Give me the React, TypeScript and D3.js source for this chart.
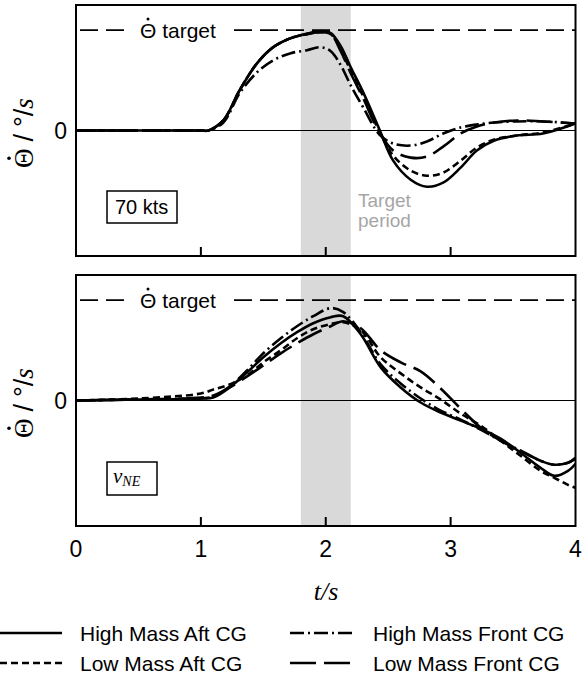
import React from "react";
import * as d3 from "d3";

// ---------- DATA ----------
const tTop = [0, 1.0, 1.06, 1.18, 1.31, 1.45, 1.58, 1.72, 1.85, 1.96, 2.04, 2.12, 2.2, 2.3, 2.43, 2.54, 2.68, 2.81, 2.94, 3.08, 3.21, 3.35, 3.53, 3.74, 4.0];
const topHighMassAft = [0, 0, 0, 0.10, 0.40, 0.67, 0.83, 0.92, 0.965, 0.99, 0.97, 0.84, 0.63, 0.38, 0.01, -0.30, -0.49, -0.56, -0.52, -0.37, -0.20, -0.10, -0.05, -0.03, 0.07];
const topLowMassAft = [0, 0, 0, 0.10, 0.40, 0.67, 0.83, 0.92, 0.96, 0.98, 0.96, 0.81, 0.59, 0.34, -0.01, -0.25, -0.40, -0.45, -0.42, -0.30, -0.17, -0.09, -0.05, -0.02, 0.07];
const topHighMassFront = [0, 0, 0, 0.08, 0.37, 0.58, 0.70, 0.77, 0.80, 0.83, 0.79, 0.65, 0.45, 0.23, -0.04, -0.13, -0.15, -0.11, -0.03, 0.03, 0.06, 0.08, 0.09, 0.09, 0.07];
const topLowMassFront = [0, 0, 0, 0.10, 0.40, 0.67, 0.83, 0.92, 0.96, 0.98, 0.96, 0.79, 0.57, 0.32, -0.02, -0.20, -0.27, -0.26, -0.16, -0.03, 0.04, 0.08, 0.10, 0.09, 0.07];

const tBottom = [0, 0.5, 1.0, 1.1, 1.23, 1.37, 1.5, 1.64, 1.77, 1.9, 2.04, 2.14, 2.28, 2.44, 2.6, 2.76, 2.92, 3.08, 3.24, 3.4, 3.56, 3.72, 3.83, 3.94, 4.0];
const botHighMassAft = [0, 0.01, 0.02, 0.03, 0.13, 0.28, 0.43, 0.57, 0.68, 0.77, 0.83, 0.84, 0.66, 0.33, 0.13, -0.02, -0.12, -0.20, -0.28, -0.38, -0.52, -0.67, -0.75, -0.70, -0.63];
const botLowMassAft = [0, 0.02, 0.07, 0.11, 0.16, 0.25, 0.38, 0.50, 0.62, 0.71, 0.76, 0.78, 0.70, 0.43, 0.27, 0.13, 0.01, -0.13, -0.25, -0.40, -0.55, -0.70, -0.77, -0.84, -0.87];
const botHighMassFront = [0, 0.01, 0.02, 0.04, 0.14, 0.30, 0.47, 0.62, 0.74, 0.84, 0.92, 0.88, 0.68, 0.36, 0.17, 0.02, -0.10, -0.19, -0.29, -0.40, -0.50, -0.60, -0.64, -0.62, -0.57];
const botLowMassFront = [0, 0.01, 0.03, 0.05, 0.13, 0.24, 0.35, 0.47, 0.57, 0.66, 0.74, 0.79, 0.72, 0.50, 0.38, 0.29, 0.12, -0.08, -0.27, -0.40, -0.50, -0.60, -0.64, -0.62, -0.58];

const seriesNames = ["High Mass Aft CG", "Low Mass Aft CG", "High Mass Front CG", "Low Mass Front CG"];
const xTicks = [0, 1, 2, 3, 4];
const targetValue = 1;
const targetPeriod = [1.8, 2.2];
const panelLabels = ["70 kts", "vNE"];

// ---------- STYLE ----------
const dashes = ["", "7,4", "14,4,2,4", "26,8"];
const W = 582, H = 680;
const left = 76, right = 575.5;
const panels = [
  { top: 5, bottom: 256, t: tTop, series: [topHighMassAft, topLowMassAft, topHighMassFront, topLowMassFront] },
  { top: 275, bottom: 526, t: tBottom, series: [botHighMassAft, botLowMassAft, botHighMassFront, botLowMassFront] },
];
const sans = "'Liberation Sans', Arial, sans-serif";
const serif = "'Liberation Serif', 'Times New Roman', serif";

const x = d3.scaleLinear().domain([0, 4]).range([left, right]);

function Panel({ p, idx }: { p: any; idx: number }) {
  const y = d3.scaleLinear().domain([-1.25, 1.25]).range([p.bottom, p.top]);
  const line = d3
    .line<[number, number]>()
    .x((d) => x(d[0]))
    .y((d) => y(d[1]))
    .curve(d3.curveCatmullRom.alpha(0.5));
  const clipId = `clip${idx}`;
  const y0 = y(0);
  const yT = y(targetValue);
  const labX = 140;
  return (
    <g>
      <defs>
        <clipPath id={clipId}>
          <rect x={left} y={p.top} width={right - left} height={p.bottom - p.top} />
        </clipPath>
      </defs>
      <rect
        x={x(targetPeriod[0])}
        y={p.top}
        width={x(targetPeriod[1]) - x(targetPeriod[0])}
        height={p.bottom - p.top}
        fill="#d9d9d9"
      />
      <line x1={left} x2={right} y1={y0} y2={y0} stroke="#000" strokeWidth={1.1} />
      {/* target line with gap for label */}
      <line x1={left + 4} x2={128} y1={yT} y2={yT} stroke="#000" strokeWidth={1.6} strokeDasharray="18,8" />
      <line x1={234} x2={right} y1={yT} y2={yT} stroke="#000" strokeWidth={1.6} strokeDasharray="18,8" />
      <text x={labX} y={yT + 7.5} fontFamily={sans} fontSize={21} fill="#000">
        Θ target
      </text>
      <circle cx={labX + 8} cy={yT - 11} r={1.5} fill="#000" />
      {idx === 0 && (
        <g fill="#a6a6a6" fontFamily={sans} fontSize={19}>
          <text x={358} y={207}>Target</text>
          <text x={358} y={227}>period</text>
        </g>
      )}
      <g clipPath={`url(#${clipId})`}>
        {p.series.map((vals: number[], i: number) => (
          <path
            key={i}
            d={line(p.t.map((t: number, k: number) => [t, vals[k]]) as [number, number][]) || ""}
            fill="none"
            stroke="#000"
            strokeWidth={2.6}
            strokeDasharray={dashes[i]}
            strokeLinejoin="round"
          />
        ))}
      </g>
      {/* ticks */}
      {xTicks.slice(1, -1).map((t) => (
        <line key={t} x1={x(t)} x2={x(t)} y1={p.bottom} y2={p.bottom - 9} stroke="#000" strokeWidth={2} />
      ))}
      <rect x={left} y={p.top} width={right - left} height={p.bottom - p.top} fill="none" stroke="#000" strokeWidth={2} />
      {/* y zero label */}
      <text x={67} y={y0 + 8.5} textAnchor="end" fontFamily={sans} fontSize={23}>
        0
      </text>
      {/* y axis label */}
      <g transform={`translate(33, ${p.top + 163}) rotate(-90)`}>
        <text x={0} y={0} fontSize={27}>
          <tspan fontFamily={serif}>Θ</tspan>
          <tspan fontFamily={sans} dx={7}>/</tspan>
          <tspan fontFamily={sans} dx={7}>°/</tspan>
          <tspan fontFamily={serif} fontStyle="italic">s</tspan>
        </text>
        <circle cx={9.7} cy={-24} r={1.8} fill="#000" />
      </g>
      {/* annotation box */}
      {idx === 0 ? (
        <g>
          <rect x={107} y={191} width={70} height={32} fill="#fff" stroke="#000" strokeWidth={1.5} />
          <text x={115} y={214} fontFamily={sans} fontSize={20}>
            {panelLabels[0]}
          </text>
        </g>
      ) : (
        <g>
          <rect x={107} y={462} width={50} height={33} fill="#fff" stroke="#000" strokeWidth={1.5} />
          <text x={113} y={483} fontFamily={serif} fontStyle="italic" fontSize={21}>
            v<tspan fontSize={14} dy={3}>NE</tspan>
          </text>
        </g>
      )}
    </g>
  );
}

export default function App() {
  const legendRows = [633, 663];
  const legendCols = [{ x1: 0, x2: 62, tx: 80 }, { x1: 290, x2: 352, tx: 373 }];
  const legendPos = [
    [0, 0],
    [0, 1],
    [1, 0],
    [1, 1],
  ];
  return (
    <svg width={W} height={H} style={{ position: "absolute", left: 0, top: 0, background: "#fff" }}>
      <rect width={W} height={H} fill="#fff" />
      {panels.map((p, i) => (
        <Panel key={i} p={p} idx={i} />
      ))}
      {/* x tick labels */}
      {xTicks.map((t) => (
        <text key={t} x={x(t)} y={557} textAnchor="middle" fontFamily={sans} fontSize={23}>
          {t}
        </text>
      ))}
      <text x={326} y={600} textAnchor="middle" fontFamily={serif} fontStyle="italic" fontSize={26}>
        t/s
      </text>
      {/* legend */}
      {seriesNames.map((name, i) => {
        const [c, r] = legendPos[i];
        const col = legendCols[c];
        const yy = legendRows[r];
        return (
          <g key={name}>
            <line x1={col.x1} x2={col.x2} y1={yy} y2={yy} stroke="#000" strokeWidth={2.6} strokeDasharray={dashes[i]} />
            <text x={col.tx} y={yy + 8} fontFamily={sans} fontSize={21}>
              {name}
            </text>
          </g>
        );
      })}
    </svg>
  );
}
